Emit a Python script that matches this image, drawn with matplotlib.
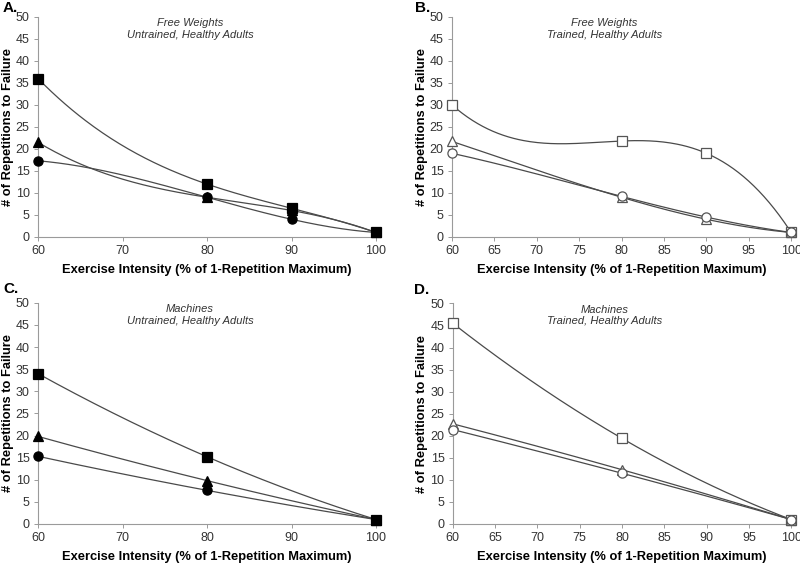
import matplotlib
matplotlib.use("Agg")
import matplotlib.pyplot as plt
import numpy as np

plt.rcParams["font.family"] = ["Liberation Sans", "DejaVu Sans"]

# panel A: free weights, untrained
a_x = [60, 80, 90, 100]
a_square = [36, 12, 6.5, 1]
a_triangle = [21.5, 9, 6, 1]
a_circle = [17.3, 9, 4, 1]

# panel B: free weights, trained
b_x = [60, 80, 90, 100]
b_square = [30, 21.8, 19, 1]
b_triangle = [21.7, 9, 4, 1]
b_circle = [19, 9.2, 4.5, 1]

# panel C: machines, untrained
c_x = [60, 80, 100]
c_square = [34, 15.2, 1]
c_triangle = [19.8, 9.8, 1]
c_circle = [15.3, 7.6, 1]

# panel D: machines, trained
d_x = [60, 80, 100]
d_square = [45.5, 19.4, 1]
d_triangle = [22.7, 12.3, 1]
d_circle = [21.4, 11.5, 1]

LINE = "#4a4a4a"
SPINE = "#9a9a9a"
TEXT = "#333333"
W, H = 800, 564


def draw_panel(ax, x, series, filled, xticks, title):
    for y, marker in series:
        # polynomial trendline through the points (order n-1)
        coef = np.polyfit(x, y, len(x) - 1)
        xs = np.linspace(min(x), max(x), 200)
        ax.plot(xs, np.polyval(coef, xs), color=LINE, lw=0.9, zorder=2)
        ms = {"s": 6.6, "^": 6.8, "o": 6.6}[marker]
        ax.plot(x, y, linestyle="none", marker=marker, ms=ms,
                mfc="black" if filled else "white",
                mec="black" if filled else "#555555",
                mew=0.9, zorder=3, clip_on=False)

    ax.set_xlim(60, 100)
    ax.set_ylim(0, 50)
    ax.set_xticks(xticks)
    ax.set_yticks(range(0, 51, 5))
    for side in ("top", "right"):
        ax.spines[side].set_visible(False)
    for side in ("left", "bottom"):
        ax.spines[side].set_color(SPINE)
        ax.spines[side].set_linewidth(0.8)
    ax.tick_params(direction="out", length=3, width=0.7, color=SPINE,
                   labelsize=9, labelcolor=TEXT, pad=3)
    ax.set_xlabel("Exercise Intensity (% of 1-Repetition Maximum)",
                  fontsize=9.3, fontweight="bold", labelpad=5)
    ax.set_ylabel("# of Repetitions to Failure",
                  fontsize=9.3, fontweight="bold")
    ax.yaxis.set_label_coords(-0.072, 0.5)
    ax.text(0.45, 0.995, title, transform=ax.transAxes, ha="center",
            va="top", fontsize=8, style="italic", color=TEXT,
            linespacing=1.2)


fig = plt.figure(figsize=(W / 100, H / 100), dpi=100)
ax_a = fig.add_axes([0.0475, 0.580, 0.4225, 0.390])
ax_b = fig.add_axes([0.565, 0.580, 0.424, 0.390])
ax_c = fig.add_axes([0.0475, 0.071, 0.4225, 0.392])
ax_d = fig.add_axes([0.566, 0.071, 0.423, 0.391])

draw_panel(ax_a, a_x, [(a_square, "s"), (a_triangle, "^"), (a_circle, "o")],
           True, range(60, 101, 10), "Free Weights\nUntrained, Healthy Adults")
draw_panel(ax_b, b_x, [(b_square, "s"), (b_triangle, "^"), (b_circle, "o")],
           False, range(60, 101, 5), "Free Weights\nTrained, Healthy Adults")
draw_panel(ax_c, c_x, [(c_square, "s"), (c_triangle, "^"), (c_circle, "o")],
           True, range(60, 101, 10), "Machines\nUntrained, Healthy Adults")
draw_panel(ax_d, d_x, [(d_square, "s"), (d_triangle, "^"), (d_circle, "o")],
           False, range(60, 101, 5), "Machines\nTrained, Healthy Adults")

# panel letters
for letter, px, py in [("A.", 3, 1), ("B.", 415, 1), ("C.", 3, 282), ("D.", 414, 283)]:
    fig.text(px / W, 1 - py / H, letter, ha="left", va="top",
             fontsize=11, fontweight="bold")

fig.savefig("out.png", dpi=100)
